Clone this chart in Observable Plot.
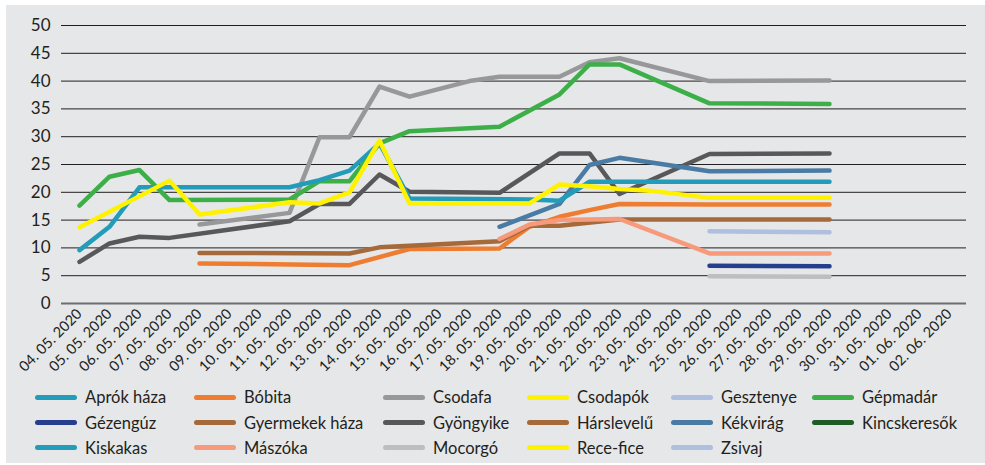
<!DOCTYPE html>
<html>
<head>
<meta charset="utf-8">
<script src="https://cdn.jsdelivr.net/npm/d3@7"></script>
<script src="https://cdn.jsdelivr.net/npm/@observablehq/plot@0.6"></script>
<style>
  html, body { margin: 0; padding: 0; background: #ffffff; }
  #wrap { position: absolute; left: 6px; top: 5px; width: 979px; height: 458px; background: #e6e7e8; overflow: hidden; font-family: Lato, "Open Sans", sans-serif; color: #231f20; }
  #chart { position: absolute; left: 0; top: 0; }
  #legend { position: absolute; left: 0; top: 0; width: 979px; height: 458px; pointer-events: none; }
  .item { position: absolute; height: 22px; display: flex; align-items: center; white-space: nowrap; font-size: 16.5px; }
  .sw { width: 42px; height: 5px; border-radius: 3px; margin-right: 8px; }
</style>
</head>
<body>
<div id="wrap">
  <div id="chart"></div>
  <div id="legend"></div>
</div>
<script>
const dates = [
  "04. 05. 2020","05. 05. 2020","06. 05. 2020","07. 05. 2020","08. 05. 2020","09. 05. 2020",
  "10. 05. 2020","11. 05. 2020","12. 05. 2020","13. 05. 2020","14. 05. 2020","15. 05. 2020",
  "16. 05. 2020","17. 05. 2020","18. 05. 2020","19. 05. 2020","20. 05. 2020","21. 05. 2020",
  "22. 05. 2020","23. 05. 2020","24. 05. 2020","25. 05. 2020","26. 05. 2020","27. 05. 2020",
  "28. 05. 2020","29. 05. 2020","30. 05. 2020","31. 05. 2020","01. 06. 2020","02. 06. 2020"
];
const yTicks = [0, 5, 10, 15, 20, 25, 30, 35, 40, 45, 50];

const names = ["Aprók háza","Bóbita","Csodafa","Csodapók","Gesztenye","Gépmadár",
  "Gézengúz","Gyermekek háza","Gyöngyike","Hárslevelű","Kékvirág","Kincskeresők",
  "Kiskakas","Mászóka","Mocorgó","Rece-fice","Zsivaj"];
const colors = ["#229cb8","#ee7d31","#98989b","#fff200","#aebfe0","#3daf49",
  "#263e8e","#a6693a","#58585a","#a6693a","#4a7ba4","#1f5c28",
  "#229cb8","#f79a7c","#bdbec0","#fff200","#aebfe0"];

const _ = null;
// values per date index (04.05 ... 02.06); null = no value
const aprokHaza     = [_,_,_,_,_,_,_,_,_,_,_,_,_,_,_,_,_,_,_,_,_,_,_,_,_,_,_,_,_,_];
const bobita        = [_,_,_,_,7.2,_,_,_,_,6.9,_,9.8,_,_,9.9,13.8,15.6,16.8,17.9,_,_,17.8,_,_,_,17.8,_,_,_,_];
const csodafa       = [_,_,_,_,14.2,_,_,16.3,29.9,29.9,39.0,37.2,38.6,40.0,40.8,_,40.8,43.4,44.1,_,_,40.0,_,_,_,40.1,_,_,_,_];
const csodapok      = [_,_,_,_,_,_,_,_,_,_,_,_,_,_,_,_,_,_,_,_,_,_,_,_,_,_,_,_,_,_];
const gesztenye     = [_,_,_,_,_,_,_,_,_,_,_,_,_,_,_,_,_,_,_,_,_,13.0,_,_,_,12.8,_,_,_,_];
const gepmadar      = [17.6,22.8,24.0,18.6,_,_,_,18.7,22.0,22.0,28.8,31.0,_,_,31.8,_,37.6,43.0,43.0,_,_,36.0,_,_,_,35.9,_,_,_,_];
const gezenguz      = [_,_,_,_,_,_,_,_,_,_,_,_,_,_,_,_,_,_,_,_,_,6.8,_,_,_,6.7,_,_,_,_];
const gyermekekHaza = [_,_,_,_,9.1,_,_,_,_,9.0,10.1,_,_,_,11.2,14.0,14.0,_,15.1,_,_,15.1,_,_,_,15.1,_,_,_,_];
const gyongyike     = [7.5,10.8,12.0,11.8,_,_,_,14.8,17.9,17.9,23.2,20.1,_,_,19.9,_,27.0,27.0,19.7,_,_,26.9,_,_,_,27.0,_,_,_,_];
const harslevelu    = [_,_,_,_,_,_,_,_,_,_,_,_,_,_,_,_,_,_,_,_,_,_,_,_,_,_,_,_,_,_];
const kekvirag      = [_,_,_,_,_,_,_,_,_,_,_,_,_,_,13.8,_,17.9,24.9,26.2,_,_,23.8,_,_,_,23.9,_,_,_,_];
const kincskeresok  = [_,_,_,_,_,_,_,_,_,_,_,_,_,_,_,_,_,_,_,_,_,_,_,_,_,_,_,_,_,_];
const kiskakas      = [9.6,13.8,20.9,_,_,_,_,20.9,22.2,23.9,28.8,18.9,_,_,_,18.7,18.5,21.9,21.9,_,_,21.9,_,_,_,21.9,_,_,_,_];
const maszoka       = [_,_,_,_,_,_,_,_,_,_,_,_,_,_,11.6,14.2,15.0,_,15.2,_,_,9.0,_,_,_,9.0,_,_,_,_];
const mocorgo       = [_,_,_,_,_,_,_,_,_,_,_,_,_,_,_,_,_,_,_,_,_,4.9,_,_,_,4.8,_,_,_,_];
const receFice      = [13.7,_,_,22.1,16.0,_,_,18.2,18.0,20.0,29.3,18.0,_,_,_,18.0,21.4,21.1,20.6,20.3,_,19.0,_,_,_,19.0,_,_,_,_];
const zsivaj        = [_,_,_,_,_,_,_,_,_,_,_,_,_,_,_,_,_,_,_,_,_,_,_,_,_,_,_,_,_,_];

const seriesValues = [aprokHaza,bobita,csodafa,csodapok,gesztenye,gepmadar,gezenguz,
  gyermekekHaza,gyongyike,harslevelu,kekvirag,kincskeresok,kiskakas,maszoka,mocorgo,receFice,zsivaj];

const data = [];
seriesValues.forEach((vals, k) => {
  vals.forEach((v, i) => { if (v != null) data.push({name: names[k], date: dates[i], value: v}); });
});

const chart = Plot.plot({
  width: 979,
  height: 380,
  marginLeft: 55,
  marginRight: 19,
  marginTop: 20,
  marginBottom: 82,
  style: {background: "transparent", fontFamily: "Lato, 'Open Sans', sans-serif", color: "#231f20", overflow: "visible"},
  x: {type: "point", domain: dates, padding: 0.5, label: null},
  y: {domain: [0, 50], label: null},
  color: {domain: names, range: colors},
  marks: [
    Plot.ruleY(yTicks.filter(t => t > 0), {stroke: "#231f20", strokeWidth: 1}),
    Plot.ruleY([0], {stroke: "#6d6e71", strokeWidth: 2}),
    Plot.axisY({ticks: yTicks, tickSize: 0, tickPadding: 11, fontSize: 17, fill: "#231f20"}),
    Plot.axisX({tickSize: 0, tickRotate: -45, tickPadding: 8, fontSize: 14.5, fill: "#231f20"}),
    Plot.line(data, {x: "date", y: "value", z: "name", stroke: "name", strokeWidth: 4.5,
      strokeLinecap: "round", strokeLinejoin: "round"})
  ]
});
document.getElementById("chart").appendChild(chart);

// legend (6 columns x 3 rows, row-wise order)
const colSwatchX = [29, 188, 377, 521, 665, 806];
const rowCenterY = [392, 417.5, 442.5];
const legend = document.getElementById("legend");
names.forEach((n, k) => {
  const r = Math.floor(k / 6), c = k % 6;
  const item = document.createElement("div");
  item.className = "item";
  item.style.left = colSwatchX[c] + "px";
  item.style.top = (rowCenterY[r] - 11) + "px";
  const sw = document.createElement("div");
  sw.className = "sw";
  sw.style.background = colors[k];
  const t = document.createElement("span");
  t.textContent = n;
  item.appendChild(sw);
  item.appendChild(t);
  legend.appendChild(item);
});
</script>
</body>
</html>
